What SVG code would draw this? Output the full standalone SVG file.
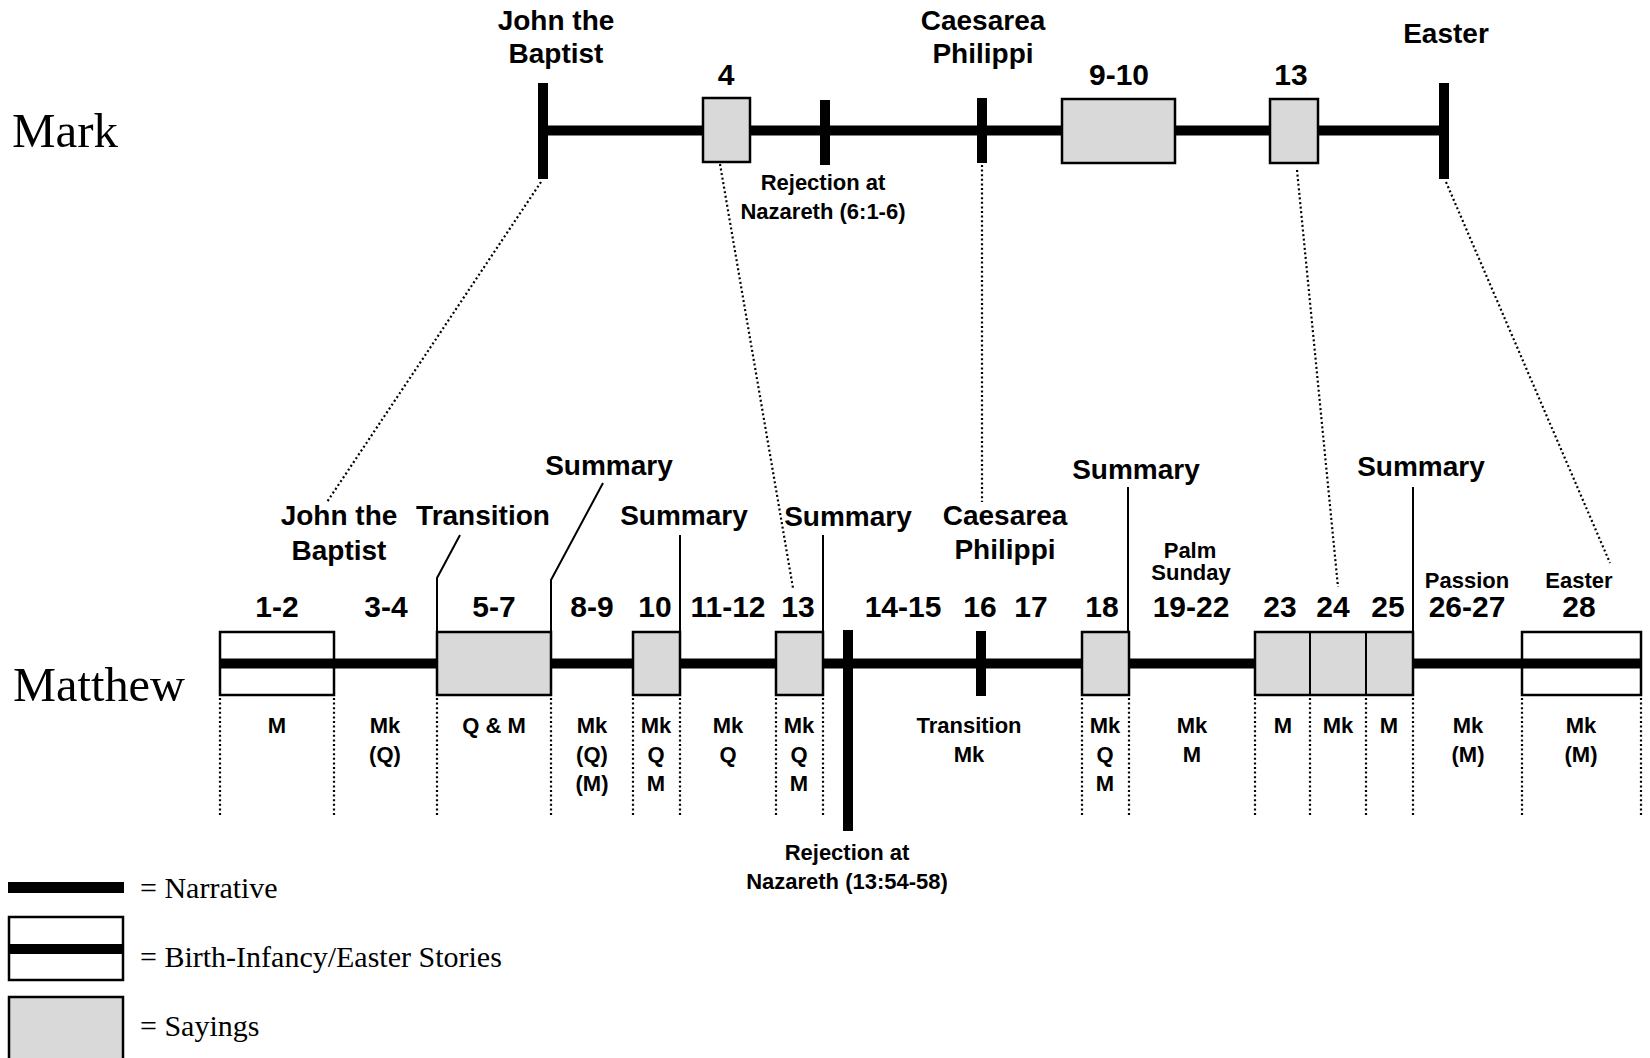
<svg xmlns="http://www.w3.org/2000/svg" width="1650" height="1058" viewBox="0 0 1650 1058">
  <style>
    .t { font-family: "Liberation Sans", Arial, sans-serif; font-weight: bold; text-anchor: middle; fill: #000; }
    .big { font-size: 28px; }
    .num { font-size: 30px; }
    .sm { font-size: 22px; }
    .gospel { font-family: "Liberation Serif", "Times New Roman", serif; font-size: 48px; fill: #000; }
    .leg { font-family: "Liberation Serif", "Times New Roman", serif; font-size: 30px; fill: #000; }
    .say { fill: #d9d9d9; stroke: #000; stroke-width: 2.5; }
    .birth { fill: #fff; stroke: #000; stroke-width: 2.5; }
    .nar { stroke: #000; stroke-width: 10; fill: none; }
    .bar { fill: #000; }
    .dot { stroke: #000; stroke-width: 2.2; stroke-dasharray: 2 2.6; fill: none; }
    .lead { stroke: #000; stroke-width: 2; fill: none; }
  </style>

  <!-- Gospel titles -->
  <g id="title-mark"><text class="gospel" x="12" y="147" textLength="106" lengthAdjust="spacingAndGlyphs">Mark</text></g>
  <g id="title-matthew"><text class="gospel" x="13" y="701" textLength="172" lengthAdjust="spacingAndGlyphs">Matthew</text></g>

  <!-- Mark timeline -->
  <g id="mark-line"><line class="nar" x1="543" y1="130.5" x2="1444" y2="130.5"/></g>
  <g id="mark-john">
    <rect class="bar" x="538" y="83" width="10" height="96"/>
    <text class="t big" x="556" y="30">John the</text>
    <text class="t big" x="556" y="63">Baptist</text>
  </g>
  <g id="mark-4">
    <rect class="say" x="703" y="98" width="47" height="64"/>
    <text class="t num" x="726" y="85">4</text>
  </g>
  <g id="mark-rejection">
    <rect class="bar" x="820" y="100" width="10" height="65"/>
    <text class="t sm" x="823" y="190">Rejection at</text>
    <text class="t sm" x="823" y="219">Nazareth (6:1-6)</text>
  </g>
  <g id="mark-caesarea">
    <rect class="bar" x="977" y="98" width="10" height="65"/>
    <text class="t big" x="983" y="30">Caesarea</text>
    <text class="t big" x="983" y="63">Philippi</text>
  </g>
  <g id="mark-9-10">
    <rect class="say" x="1062" y="99" width="113" height="64"/>
    <text class="t num" x="1119" y="85">9-10</text>
  </g>
  <g id="mark-13">
    <rect class="say" x="1270" y="99" width="48" height="64"/>
    <text class="t num" x="1291" y="85">13</text>
  </g>
  <g id="mark-easter">
    <rect class="bar" x="1439" y="83" width="10" height="96"/>
    <text class="t big" x="1446" y="43">Easter</text>
  </g>

  <!-- Connectors: Mark to Matthew, leaders, column rules -->
  <g id="connectors">
    <line class="dot" x1="541" y1="182" x2="327" y2="502"/>
    <line class="dot" x1="720" y1="164" x2="793" y2="588"/>
    <line class="dot" x1="982" y1="165" x2="982" y2="502"/>
    <line class="dot" x1="1297" y1="170" x2="1338" y2="587"/>
    <line class="dot" x1="1446" y1="182" x2="1610" y2="563"/>

    <polyline class="lead" points="437,632 437,578 460,535"/>
    <polyline class="lead" points="551,632 551,580 603,483"/>
    <line class="lead" x1="680" y1="632" x2="680" y2="535"/>
    <line class="lead" x1="823" y1="632" x2="823" y2="535"/>
    <line class="lead" x1="1128" y1="632" x2="1128" y2="487"/>
    <line class="lead" x1="1413" y1="632" x2="1413" y2="487"/>

    <g class="dot">
      <line x1="220" y1="698" x2="220" y2="815"/>
      <line x1="334" y1="698" x2="334" y2="815"/>
      <line x1="437" y1="698" x2="437" y2="815"/>
      <line x1="551" y1="698" x2="551" y2="815"/>
      <line x1="633" y1="698" x2="633" y2="815"/>
      <line x1="680" y1="698" x2="680" y2="815"/>
      <line x1="776" y1="698" x2="776" y2="815"/>
      <line x1="823" y1="698" x2="823" y2="815"/>
      <line x1="1082" y1="698" x2="1082" y2="815"/>
      <line x1="1129" y1="698" x2="1129" y2="815"/>
      <line x1="1255" y1="698" x2="1255" y2="815"/>
      <line x1="1310" y1="698" x2="1310" y2="815"/>
      <line x1="1366" y1="698" x2="1366" y2="815"/>
      <line x1="1413" y1="698" x2="1413" y2="815"/>
      <line x1="1522" y1="698" x2="1522" y2="815"/>
      <line x1="1641" y1="698" x2="1641" y2="815"/>
    </g>
  </g>

  <!-- Matthew timeline -->
  <g id="mt-1-2">
    <rect class="birth" x="220" y="632" width="114" height="63"/>
    <text class="t num" x="277" y="617">1-2</text>
    <text class="t sm" x="277" y="733">M</text>
  </g>
  <g id="mt-28">
    <rect class="birth" x="1522" y="632" width="119" height="63"/>
    <text class="t sm" x="1579" y="588">Easter</text>
    <text class="t num" x="1579" y="617">28</text>
    <text class="t sm" x="1581" y="733">Mk</text>
    <text class="t sm" x="1581" y="762">(M)</text>
  </g>
  <g id="matthew-line"><line class="nar" x1="220" y1="663.5" x2="1641" y2="663.5"/></g>

  <g id="mt-john">
    <text class="t big" x="339" y="525">John the</text>
    <text class="t big" x="339" y="560">Baptist</text>
  </g>
  <g id="mt-3-4">
    <text class="t num" x="386" y="617">3-4</text>
    <text class="t sm" x="385" y="733">Mk</text>
    <text class="t sm" x="385" y="762">(Q)</text>
  </g>
  <g id="mt-5-7">
    <rect class="say" x="437" y="632" width="114" height="63"/>
    <text class="t big" x="483" y="525">Transition</text>
    <text class="t big" x="609" y="475">Summary</text>
    <text class="t num" x="494" y="617">5-7</text>
    <text class="t sm" x="494" y="733">Q &amp; M</text>
  </g>
  <g id="mt-8-9">
    <text class="t num" x="592" y="617">8-9</text>
    <text class="t sm" x="592" y="733">Mk</text>
    <text class="t sm" x="592" y="762">(Q)</text>
    <text class="t sm" x="592" y="791">(M)</text>
  </g>
  <g id="mt-10">
    <rect class="say" x="633" y="632" width="47" height="63"/>
    <text class="t big" x="684" y="525">Summary</text>
    <text class="t num" x="655" y="617">10</text>
    <text class="t sm" x="656" y="733">Mk</text>
    <text class="t sm" x="656" y="762">Q</text>
    <text class="t sm" x="656" y="791">M</text>
  </g>
  <g id="mt-11-12">
    <text class="t num" x="728" y="617">11-12</text>
    <text class="t sm" x="728" y="733">Mk</text>
    <text class="t sm" x="728" y="762">Q</text>
  </g>
  <g id="mt-13">
    <rect class="say" x="776" y="632" width="47" height="63"/>
    <text class="t big" x="848" y="526">Summary</text>
    <text class="t num" x="798" y="617">13</text>
    <text class="t sm" x="799" y="733">Mk</text>
    <text class="t sm" x="799" y="762">Q</text>
    <text class="t sm" x="799" y="791">M</text>
  </g>
  <g id="mt-rejection">
    <rect class="bar" x="843" y="630" width="10" height="201"/>
    <text class="t sm" x="847" y="860">Rejection at</text>
    <text class="t sm" x="847" y="889">Nazareth (13:54-58)</text>
  </g>
  <g id="mt-14-17">
    <text class="t num" x="903" y="617">14-15</text>
    <text class="t num" x="980" y="617">16</text>
    <text class="t num" x="1031" y="617">17</text>
    <text class="t sm" x="969" y="733">Transition</text>
    <text class="t sm" x="969" y="762">Mk</text>
  </g>
  <g id="mt-caesarea">
    <rect class="bar" x="976" y="631" width="10" height="65"/>
    <text class="t big" x="1005" y="525">Caesarea</text>
    <text class="t big" x="1005" y="559">Philippi</text>
  </g>
  <g id="mt-18">
    <rect class="say" x="1082" y="632" width="47" height="63"/>
    <text class="t big" x="1136" y="479">Summary</text>
    <text class="t num" x="1102" y="617">18</text>
    <text class="t sm" x="1105" y="733">Mk</text>
    <text class="t sm" x="1105" y="762">Q</text>
    <text class="t sm" x="1105" y="791">M</text>
  </g>
  <g id="mt-19-22">
    <text class="t sm" x="1190" y="558">Palm</text>
    <text class="t sm" x="1191" y="580">Sunday</text>
    <text class="t num" x="1191" y="617">19-22</text>
    <text class="t sm" x="1192" y="733">Mk</text>
    <text class="t sm" x="1192" y="762">M</text>
  </g>
  <g id="mt-23-25">
    <rect class="say" x="1255" y="632" width="158" height="63"/>
    <line class="lead" x1="1310" y1="632" x2="1310" y2="695"/>
    <line class="lead" x1="1366" y1="632" x2="1366" y2="695"/>
    <text class="t big" x="1421" y="476">Summary</text>
    <text class="t num" x="1280" y="617">23</text>
    <text class="t num" x="1333" y="617">24</text>
    <text class="t num" x="1388" y="617">25</text>
    <text class="t sm" x="1283" y="733">M</text>
    <text class="t sm" x="1338" y="733">Mk</text>
    <text class="t sm" x="1389" y="733">M</text>
  </g>
  <g id="mt-26-27">
    <text class="t sm" x="1467" y="588">Passion</text>
    <text class="t num" x="1467" y="617">26-27</text>
    <text class="t sm" x="1468" y="733">Mk</text>
    <text class="t sm" x="1468" y="762">(M)</text>
  </g>

  <!-- Key -->
  <g id="legend-narrative">
    <rect class="bar" x="8" y="882" width="116" height="11"/>
    <text class="leg" x="140" y="898">= Narrative</text>
  </g>
  <g id="legend-birth">
    <rect class="birth" x="9" y="917" width="114" height="63"/>
    <rect class="bar" x="8" y="944" width="116" height="10"/>
    <text class="leg" x="140" y="967">= Birth-Infancy/Easter Stories</text>
  </g>
  <g id="legend-sayings">
    <rect class="say" x="9" y="997" width="114" height="70"/>
    <text class="leg" x="140" y="1036">= Sayings</text>
  </g>
</svg>
